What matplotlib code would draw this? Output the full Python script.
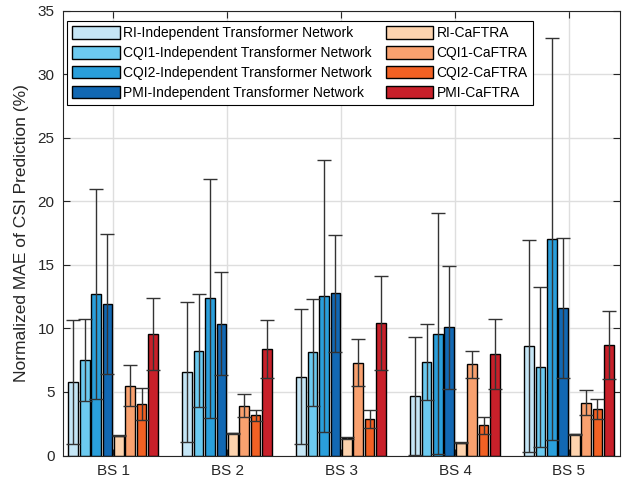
import numpy as np
import matplotlib.pyplot as plt

plt.rcParams["font.family"] = ["Liberation Sans", "DejaVu Sans"]

groups = ["BS 1", "BS 2", "BS 3", "BS 4", "BS 5"]

series_names = [
    "RI-Independent Transformer Network",
    "CQI1-Independent Transformer Network",
    "CQI2-Independent Transformer Network",
    "PMI-Independent Transformer Network",
    "RI-CaFTRA",
    "CQI1-CaFTRA",
    "CQI2-CaFTRA",
    "PMI-CaFTRA",
]

# mean values per series (BS1..BS5)
ri_itn = [5.79, 6.58, 6.19, 4.72, 8.65]
cqi1_itn = [7.52, 8.26, 8.13, 7.37, 6.97]
cqi2_itn = [12.69, 12.37, 12.56, 9.59, 17.06]
pmi_itn = [11.93, 10.38, 12.77, 10.09, 11.59]
ri_caftra = [1.55, 1.76, 1.37, 1.02, 1.68]
cqi1_caftra = [5.50, 3.91, 7.29, 7.18, 4.17]
cqi2_caftra = [4.04, 3.17, 2.89, 2.39, 3.67]
pmi_caftra = [9.54, 8.36, 10.43, 7.97, 8.70]

# standard deviations (error bar half lengths)
ri_itn_std = [4.86, 5.50, 5.31, 4.64, 8.34]
cqi1_itn_std = [3.24, 4.42, 4.20, 2.98, 6.32]
cqi2_itn_std = [8.26, 9.40, 10.72, 9.48, 15.80]
pmi_itn_std = [5.51, 4.07, 4.61, 4.83, 5.53]
ri_caftra_std = [0.05, 0.05, 0.05, 0.05, 0.05]
cqi1_caftra_std = [1.64, 0.90, 1.84, 1.05, 0.98]
cqi2_caftra_std = [1.27, 0.45, 0.70, 0.66, 0.79]
pmi_caftra_std = [2.82, 2.27, 3.67, 2.75, 2.67]

means = [ri_itn, cqi1_itn, cqi2_itn, pmi_itn,
         ri_caftra, cqi1_caftra, cqi2_caftra, pmi_caftra]
stds = [ri_itn_std, cqi1_itn_std, cqi2_itn_std, pmi_itn_std,
        ri_caftra_std, cqi1_caftra_std, cqi2_caftra_std, pmi_caftra_std]

colors = ["#c5e6f6", "#6ccaf0", "#2a9fdb", "#1268b3",
          "#fdd3ae", "#f9a16f", "#f26124", "#c8202a"]

x = np.arange(1, len(groups) + 1)
n = len(series_names)
step = 0.1
width = 0.085

fig = plt.figure(figsize=(6.24, 4.78), dpi=100)
ax = fig.add_axes([0.101, 0.047, 0.893, 0.931])

for k in range(n):
    offset = (k - (n - 1) / 2) * step
    ax.bar(x + offset, means[k], width, color=colors[k], edgecolor="black",
           linewidth=1.0, label=series_names[k], zorder=2)
    ax.errorbar(x + offset, means[k], yerr=stds[k], fmt="none",
                ecolor="#333333", elinewidth=1.0, capsize=5, capthick=1.0,
                zorder=3)

ax.set_xlim(0.56, 5.45)
ax.set_ylim(0, 35)
ax.set_xticks(x)
ax.set_xticklabels(groups)
ax.set_yticks(np.arange(0, 36, 5))
ax.tick_params(direction="in", top=True, right=True, length=5, pad=6,
               labelsize=11, colors="#262626", width=0.8)
ax.grid(True, color="#dedede", linewidth=1.0, zorder=0)
ax.set_axisbelow(True)
for s in ax.spines.values():
    s.set_color("#262626")
    s.set_linewidth(0.8)

ax.set_ylabel("Normalized MAE of CSI Prediction (%)", fontsize=12.5,
              color="#262626", labelpad=6)

leg = ax.legend(ncol=2, loc="upper left", bbox_to_anchor=(0.007, 0.977),
                borderaxespad=0, fontsize=10, frameon=True, fancybox=False,
                edgecolor="black", framealpha=1, handlelength=3.4,
                handleheight=1.0, handletextpad=0.25, labelspacing=0.42,
                columnspacing=1.0, borderpad=0.4)
leg.get_frame().set_linewidth(0.8)

fig.savefig("out.png", dpi=100)
